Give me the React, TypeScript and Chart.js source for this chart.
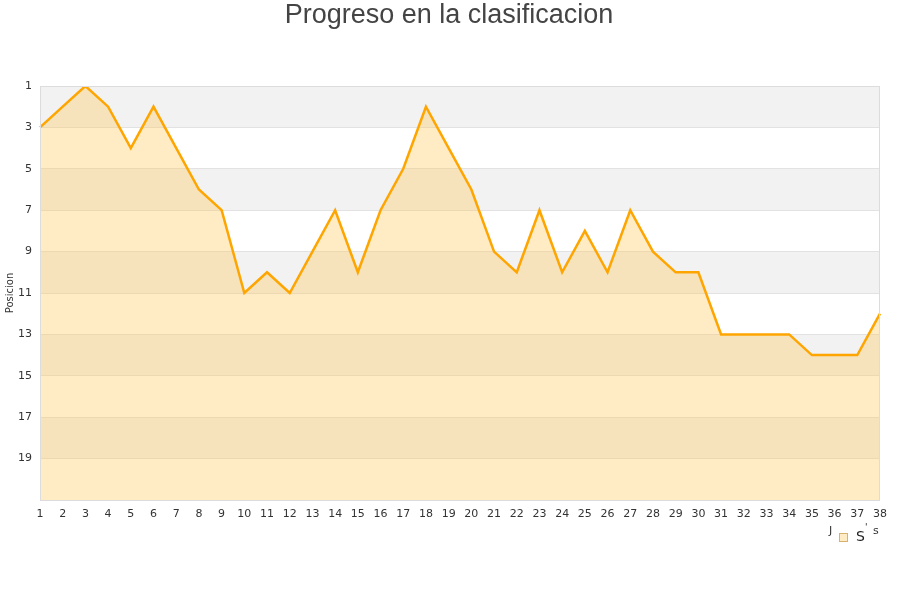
import React, { useEffect, useRef } from "react";
import { Chart, registerables } from "chart.js";

Chart.register(...registerables);

const TITLE = "Progreso en la clasificacion";
const Y_TITLE = "Posicion";
const jornadas = Array.from({ length: 38 }, (_, i) => String(i + 1));
const posiciones = [3, 2, 1, 2, 4, 2, 4, 6, 7, 11, 10, 11, 9, 7, 10, 7, 5, 2, 4, 6, 9, 10, 7, 10, 8, 10, 7, 9, 10, 10, 13, 13, 13, 13, 14, 14, 14, 12];
const bandStarts = [1, 5, 9, 13, 17];

const bandsPlugin = {
  id: "bands",
  beforeDraw(chart: any) {
    const { ctx, chartArea, scales } = chart;
    const y = scales.y;
    ctx.save();
    ctx.fillStyle = "#f2f2f2";
    for (const b of bandStarts) {
      const t = y.getPixelForValue(b);
      const bt = y.getPixelForValue(b + 2);
      ctx.fillRect(chartArea.left, t, chartArea.right - chartArea.left, bt - t);
    }
    ctx.restore();
  },
  afterDraw(chart: any) {
    const { ctx, chartArea } = chart;
    ctx.save();
    ctx.strokeStyle = "#dcdcdc";
    ctx.lineWidth = 1;
    ctx.strokeRect(chartArea.left + 0.5, chartArea.top + 0.5, chartArea.right - chartArea.left - 1, chartArea.bottom - chartArea.top);
    // legend
    ctx.fillStyle = "#333";
    ctx.font = "11px 'DejaVu Sans'";
    ctx.textBaseline = "middle";
    ctx.fillText("J", 829, 531);
    ctx.fillStyle = "rgba(255, 200, 90, 0.35)";
    ctx.fillRect(839, 533, 8, 8);
    ctx.strokeStyle = "#d8b070";
    ctx.strokeRect(839.5, 533.5, 8, 8);
    ctx.fillStyle = "#222";
    ctx.font = "14px 'DejaVu Sans'";
    ctx.fillText("S", 856, 537);
    ctx.font = "9px 'DejaVu Sans'";
    ctx.fillText("'", 865, 528);
    ctx.font = "11px 'DejaVu Sans'";
    ctx.fillStyle = "#333";
    ctx.fillText("s", 873, 531);
    ctx.restore();
  },
};

export default function App() {
  const ref = useRef<HTMLCanvasElement>(null);
  useEffect(() => {
    if (!ref.current) return;
    const chart = new Chart(ref.current, {
      type: "line",
      data: {
        labels: jornadas,
        datasets: [
          {
            label: "S",
            data: posiciones,
            borderColor: "#ffa500",
            backgroundColor: "rgba(255, 200, 90, 0.35)",
            borderWidth: 2.5,
            pointRadius: 0,
            tension: 0,
            fill: { value: 21 },
          },
        ],
      },
      options: {
        animation: false,
        responsive: false,
        maintainAspectRatio: false,
        layout: { padding: { top: 86, right: 20, left: 0, bottom: 0 } },
        plugins: {
          legend: { display: false },
          tooltip: { enabled: false },
          title: { display: false },
        },
        scales: {
          x: {
            offset: false,
            afterFit(scale: any) {
              scale.height = 100;
            },
            grid: { display: false, drawTicks: false },
            border: { display: false },
            ticks: { color: "#333", font: { family: "'DejaVu Sans'", size: 11 }, padding: 8, maxRotation: 0, autoSkip: false },
          },
          y: {
            reverse: true,
            min: 1,
            max: 21,
            afterFit(scale: any) {
              scale.width = 40;
            },
            afterBuildTicks(scale: any) {
              scale.ticks = [1, 3, 5, 7, 9, 11, 13, 15, 17, 19].map((v) => ({ value: v }));
            },
            grid: { color: "#e2e2e2", drawTicks: false },
            border: { display: false },
            ticks: { color: "#333", font: { family: "'DejaVu Sans'", size: 11 }, padding: 8 },
            title: { display: true, text: Y_TITLE, color: "#333", font: { family: "'DejaVu Sans'", size: 10 }, padding: { top: 4, bottom: 0 } },
          },
        },
      },
      plugins: [
        bandsPlugin,
        {
          id: "maintitle",
          afterDraw(chart: any) {
            const { ctx } = chart;
            ctx.save();
            ctx.fillStyle = "#444";
            ctx.font = "27px 'Liberation Sans'";
            ctx.textAlign = "center";
            ctx.textBaseline = "middle";
            ctx.fillText(TITLE, 449, 16);
            ctx.restore();
          },
        },
      ],
    });
    return () => chart.destroy();
  }, []);
  return (
    <div style={{ position: "absolute", left: 0, top: 0, width: 900, height: 600 }}>
      <canvas ref={ref} width={900} height={600} style={{ width: 900, height: 600 }} />
    </div>
  );
}
